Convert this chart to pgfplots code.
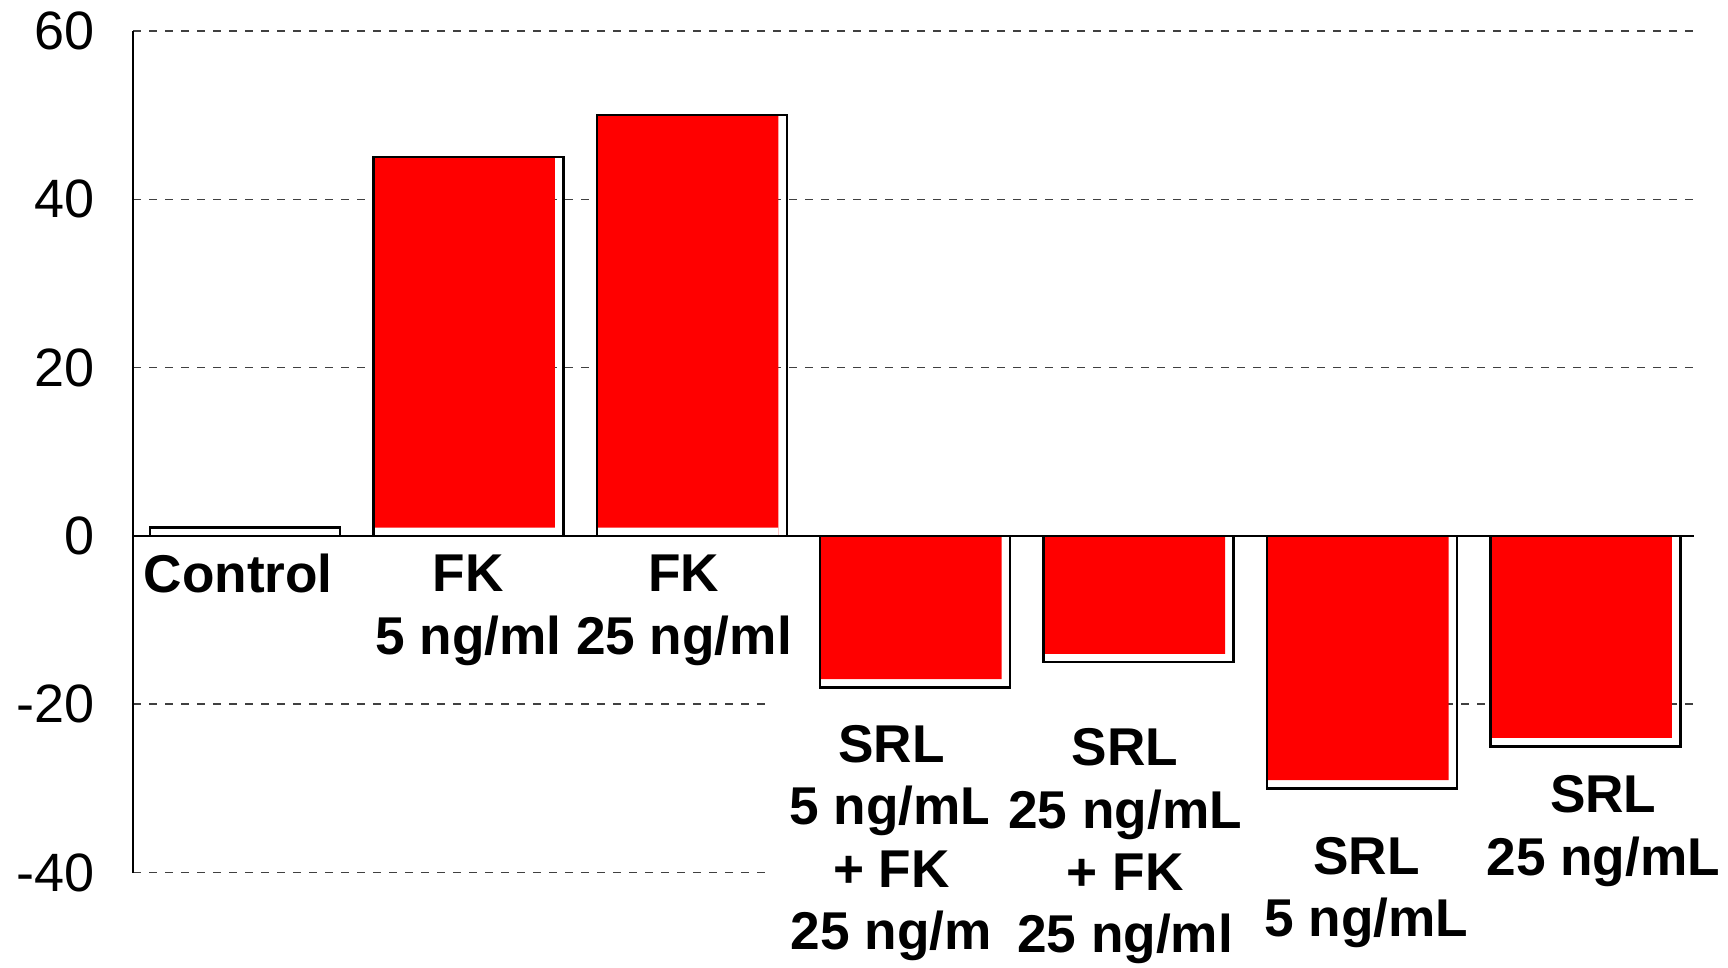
\documentclass[border=0pt]{standalone}
\usepackage{fontspec}
\setmainfont{Liberation Sans}
\usepackage{pgfplots}
\pgfplotsset{compat=1.18}
\newcommand{\lbl}[1]{\begin{tabular}[t]{@{}c@{}}#1\end{tabular}}
\begin{document}
\begin{tikzpicture}
\begin{axis}[
  at={(0,0)}, anchor=south west,
  scale only axis, width=390.2pt, height=210.4pt,
  xmin=-0.5, xmax=6.486, ymin=-40, ymax=60,
  axis y line*=left, axis x line*=middle,
  axis line style={black, line width=0.6pt},
  xtick=\empty,
  ytick={-40,-20,0,20,40,60},
  yticklabels={-40,-20,0,20,40,60},
  major tick length=0pt,
  yticklabel style={font=\fontsize{13.5}{16}\selectfont, anchor=east, inner sep=0pt, xshift=-9.5pt},
  ymajorgrids,
  major grid style={dash pattern=on 2pt off 2pt, black!75, line width=0.4pt},
  clip=false,
]
% red fill (inset, shadow offset)
\addplot[ybar, bar width=0.8125, bar shift=-0.019, fill=red, draw=none]
  coordinates {(1,45) (2,50) (3,-17) (4,-14) (5,-29) (6,-24)};
% gap strip below red for positive bars
\addplot[ybar, bar width=0.8125, bar shift=-0.019, fill=white, draw=none]
  coordinates {(1,1) (2,1)};
% outlines
\addplot[ybar, bar width=0.8505, bar shift=0, fill=none, draw=black, line width=0.6pt]
  coordinates {(0,1) (1,45) (2,50) (3,-18) (4,-15) (5,-30) (6,-25)};
% category labels
\begin{scope}[every node/.style={font=\fontsize{13.3}{15.6}\selectfont\bfseries, anchor=base, inner sep=0pt}]
\node at (axis cs:-0.03,-6.77) {\lbl{Control}};
\node at (axis cs:1.0,-6.65) {\lbl{FK\\5 ng/ml}};
\node at (axis cs:1.965,-6.65) {\lbl{FK\\25 ng/ml}};
\node[fill=white, minimum width=63pt, inner sep=5pt] at (axis cs:2.894,-26.9) {\lbl{SRL\\5 ng/mL\\+ FK\\25 ng/m}};
\node[fill=white, minimum width=65pt, inner sep=5pt] at (axis cs:3.94,-27.3) {\lbl{SRL\\25 ng/mL\\+ FK\\25 ng/ml}};
\node[fill=white, inner sep=5pt] at (axis cs:5.02,-40.2) {\lbl{SRL\\5 ng/mL}};
\node[fill=white, inner sep=5pt] at (axis cs:6.08,-32.9) {\lbl{SRL\\25 ng/mL}};
\end{scope}
\end{axis}
\pgfresetboundingbox
\path[use as bounding box] (-33.3pt,-23.6pt) rectangle (398.7pt,218.15pt);
\end{tikzpicture}
\end{document}
